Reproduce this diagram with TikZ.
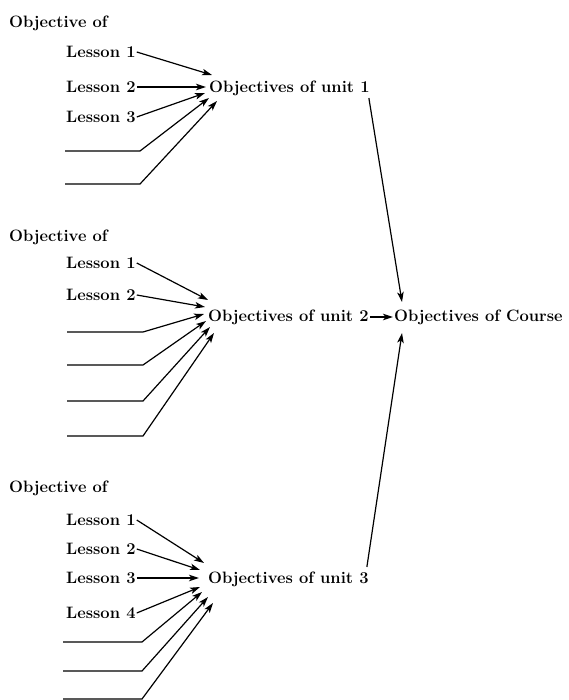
\documentclass[tikz,border=0pt]{standalone}
\usetikzlibrary{arrows.meta}

\begin{document}
\begin{tikzpicture}[x=1pt, y=-1pt,
        >={Stealth[length=10pt, width=6.5pt, inset=2.5pt]},
        every node/.style={font=\fontsize{16.5}{19}\selectfont\bfseries, inner sep=1pt, anchor=west},
        link/.style={->, line width=1.2pt}]
      \useasboundingbox (0,0) rectangle (569,700);
      % unit 1
      \node (OB1) at (8,23) {Objective of};
      \node (L11) at (65,52) {Lesson 1};
      \node (L12) at (65,87) {Lesson 2};
      \node (L13) at (65,117) {Lesson 3};
      \node (U1) at (208,88) {Objectives of unit 1};
      \coordinate (B11) at (65,151);
      \coordinate (B12) at (65,184);
      \draw[link] (L11.east) -- ([shift={(4,-13)}]U1.west);
      \draw[link] (L12.east) -- ([shift={(-2,-1)}]U1.west);
      \draw[link] (L13.east) -- ([shift={(-3,5)}]U1.west);
      \draw[link] (B11) -- ++(75,0) -- ([shift={(1,10)}]U1.west);
      \draw[link] (B12) -- ++(75,0) -- ([shift={(9,13)}]U1.west);
      % unit 2
      \node (OB2) at (8,237) {Objective of};
      \node (L21) at (65,263) {Lesson 1};
      \node (L22) at (65,295) {Lesson 2};
      \node (U2) at (207,317) {Objectives of unit 2};
      \node (CRS) at (393,317) {Objectives of Course};
      \coordinate (B21) at (67,332);
      \coordinate (B22) at (67,365);
      \coordinate (B23) at (67,401);
      \coordinate (B24) at (67,436);
      \draw[link] (L21.east) -- ([shift={(1,-17)}]U2.west);
      \draw[link] (L22.east) -- ([shift={(-2,-10)}]U2.west);
      \draw[link] (B21) -- ++(76,0) -- ([shift={(-3,-3)}]U2.west);
      \draw[link] (B22) -- ++(76,0) -- ([shift={(-1,4)}]U2.west);
      \draw[link] (B23) -- ++(76,0) -- ([shift={(3,10)}]U2.west);
      \draw[link] (B24) -- ++(76,0) -- ([shift={(7,16)}]U2.west);
      \draw[link] (U2.east) -- (CRS.west);
      % unit 3
      \node (OB3) at (8,488) {Objective of};
      \node (L31) at (65,520) {Lesson 1};
      \node (L32) at (65,549) {Lesson 2};
      \node (L33) at (65,578) {Lesson 3};
      \node (L34) at (65,613) {Lesson 4};
      \node (U3) at (207,579) {Objectives of unit 3};
      \coordinate (B31) at (63,642);
      \coordinate (B32) at (63,671);
      \coordinate (B33) at (63,699);
      \draw[link] (L31.east) -- ([shift={(-3,-16)}]U3.west);
      \draw[link] (L32.east) -- ([shift={(-7,-9)}]U3.west);
      \draw[link] (L33.east) -- ([shift={(-8,-1)}]U3.west);
      \draw[link] (L34.east) -- ([shift={(-7,8)}]U3.west);
      \draw[link] (B31) -- ++(79,0) -- ([shift={(-5,13)}]U3.west);
      \draw[link] (B32) -- ++(79,0) -- ([shift={(1,18)}]U3.west);
      \draw[link] (B33) -- ++(79,0) -- ([shift={(6,24)}]U3.west);
      % into the course
      \draw[link] ([shift={(-2,10)}]U1.east) -- ([shift={(9,-15)}]CRS.west);
      \draw[link] ([shift={(-3,-12)}]U3.east) -- ([shift={(9,16)}]CRS.west);
\end{tikzpicture}
\end{document}
